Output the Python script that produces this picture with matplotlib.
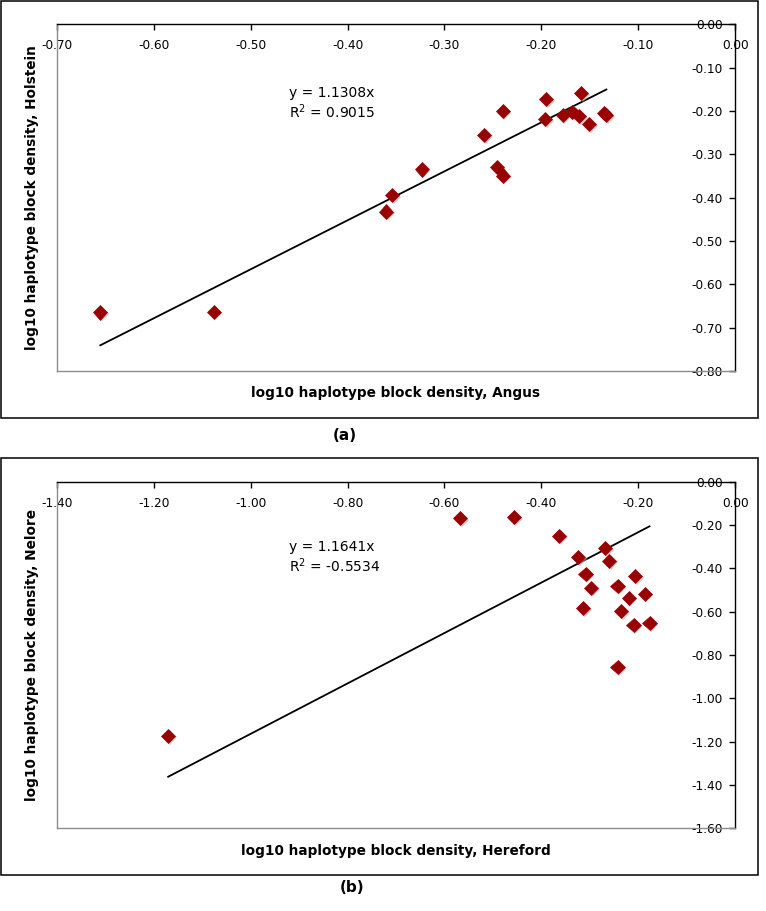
import matplotlib
matplotlib.use("Agg")
import matplotlib.pyplot as plt
import matplotlib.patheffects as pe
from matplotlib.patches import Rectangle
import numpy as np

plt.rcParams['font.family'] = ['DejaVu Sans']

# ---------------- data: panel (a) ----------------
angus_x = [-0.655, -0.538, -0.360, -0.354, -0.3235, -0.259, -0.246, -0.240, -0.240,
           -0.195, -0.196, -0.178, -0.168, -0.161, -0.159, -0.151, -0.135, -0.133]
holstein_y = [-0.665, -0.663, -0.432, -0.394, -0.335, -0.255, -0.330, -0.349, -0.200,
              -0.173, -0.219, -0.209, -0.202, -0.212, -0.159, -0.231, -0.204, -0.209]
slope_a = 1.1308
r2_a = "0.9015"
xticks_a = [-0.70, -0.60, -0.50, -0.40, -0.30, -0.20, -0.10, 0.00]
xticklabels_a = ["-0.70", "-0.60", "-0.50", "-0.40", "-0.30", "-0.20", "-0.10", "0.00"]
yticks_a = [-0.80, -0.70, -0.60, -0.50, -0.40, -0.30, -0.20, -0.10, 0.00]
yticklabels_a = ["-0.80", "-0.70", "-0.60", "-0.50", "-0.40", "-0.30", "-0.20", "-0.10", "0.00"]

# ---------------- data: panel (b) ----------------
hereford_x = [-1.170, -0.568, -0.457, -0.363, -0.324, -0.268, -0.260, -0.309, -0.298,
              -0.314, -0.243, -0.207, -0.220, -0.187, -0.235, -0.210, -0.177, -0.243]
nelore_y = [-1.173, -0.168, -0.163, -0.249, -0.349, -0.307, -0.365, -0.426, -0.489,
            -0.584, -0.482, -0.435, -0.536, -0.517, -0.598, -0.663, -0.654, -0.857]
slope_b = 1.1641
r2_b = "-0.5534"
xticks_b = [-1.40, -1.20, -1.00, -0.80, -0.60, -0.40, -0.20, 0.00]
xticklabels_b = ["-1.40", "-1.20", "-1.00", "-0.80", "-0.60", "-0.40", "-0.20", "0.00"]
yticks_b = [-1.60, -1.40, -1.20, -1.00, -0.80, -0.60, -0.40, -0.20, 0.00]
yticklabels_b = ["-1.60", "-1.40", "-1.20", "-1.00", "-0.80", "-0.60", "-0.40", "-0.20", "0.00"]

W, H = 766, 911
fig = plt.figure(figsize=(W / 100, H / 100), dpi=100)


def fx(px):
    return px / W


def fy(py):
    return 1 - py / H


MARKER = '#990000'
TICKFS = 8.7
LABELFS = 9.8


def panel(ax_box, x, y, slope, r2, xticks, xtl, yticks, ytl, xlabel, ylabel,
          eq_pos):
    left, top, right, bottom = ax_box
    ax = fig.add_axes([fx(left), fy(bottom), fx(right) - fx(left), fy(top) - fy(bottom)])
    ax.set_xlim(xticks[0], xticks[-1])
    ax.set_ylim(yticks[0], yticks[-1])
    x = np.asarray(x)
    y = np.asarray(y)
    # trendline through origin
    xl = np.array([x.min(), x.max()])
    ax.plot(xl, slope * xl, color='black', lw=1.3, zorder=2)
    ax.plot(x, y, linestyle='none', marker='D', ms=7.2, mfc=MARKER, mec=MARKER,
            mew=0.5, zorder=3,
            path_effects=[pe.SimplePatchShadow(offset=(1.2, -1.2), shadow_rgbFace='#b0a0a0',
                                               alpha=0.6), pe.Normal()])
    # axes lines
    for s in ['top', 'right']:
        ax.spines[s].set_color('black')
        ax.spines[s].set_linewidth(1.0)
    for s in ['left', 'bottom']:
        ax.spines[s].set_color('#8c8c8c')
        ax.spines[s].set_linewidth(1.0)
    ax.xaxis.tick_top()
    ax.yaxis.tick_right()
    ax.set_xticks(xticks)
    ax.set_xticklabels(xtl)
    ax.set_yticks(yticks)
    ax.set_yticklabels(ytl)
    ax.tick_params(axis='x', direction='in', length=4, width=1, pad=-10.8,
                   labelsize=TICKFS, top=True, bottom=False, labeltop=True, labelbottom=False)
    ax.tick_params(axis='y', direction='in', length=4, width=1, pad=-9.0,
                   labelsize=TICKFS, right=True, left=False, labelright=True, labelleft=False)
    for lab in ax.get_xticklabels():
        lab.set_va('top')
    for lab in ax.get_yticklabels():
        lab.set_ha('right')
    ax.xaxis.set_label_position('bottom')
    ax.yaxis.set_label_position('left')
    ax.set_xlabel(xlabel, fontsize=LABELFS, fontweight='bold', labelpad=11)
    ax.set_ylabel(ylabel, fontsize=LABELFS, fontweight='bold', labelpad=13)
    ex, ey = eq_pos
    ax.text(ex, ey, "y = %.4fx" % slope, transform=ax.transAxes, fontsize=10,
            ha='left', va='center')
    ax.text(ex, ey - 0.055, "R$^{2}$ = " + r2, transform=ax.transAxes, fontsize=10,
            ha='left', va='center')
    return ax


panel((56.7, 24.3, 735.3, 371.0), angus_x, holstein_y, slope_a, r2_a,
      xticks_a, xticklabels_a, yticks_a, yticklabels_a,
      "log10 haplotype block density, Angus",
      "log10 haplotype block density, Holstein", (0.342, 0.803))

panel((56.7, 481.7, 735.3, 828.3), hereford_x, nelore_y, slope_b, r2_b,
      xticks_b, xticklabels_b, yticks_b, yticklabels_b,
      "log10 haplotype block density, Hereford",
      "log10 haplotype block density, Nelore", (0.342, 0.812))

# outer frames
for top, bottom in [(1, 418), (458, 875)]:
    fig.add_artist(Rectangle((fx(1), fy(bottom)), fx(758) - fx(1), fy(top) - fy(bottom),
                             transform=fig.transFigure, fill=False, edgecolor='black',
                             linewidth=1.1))

fig.text(fx(345), fy(435), "(a)", fontsize=11, fontweight='bold', ha='center', va='center')
fig.text(fx(352), fy(887), "(b)", fontsize=11, fontweight='bold', ha='center', va='center')

fig.savefig("out.png", dpi=100)
